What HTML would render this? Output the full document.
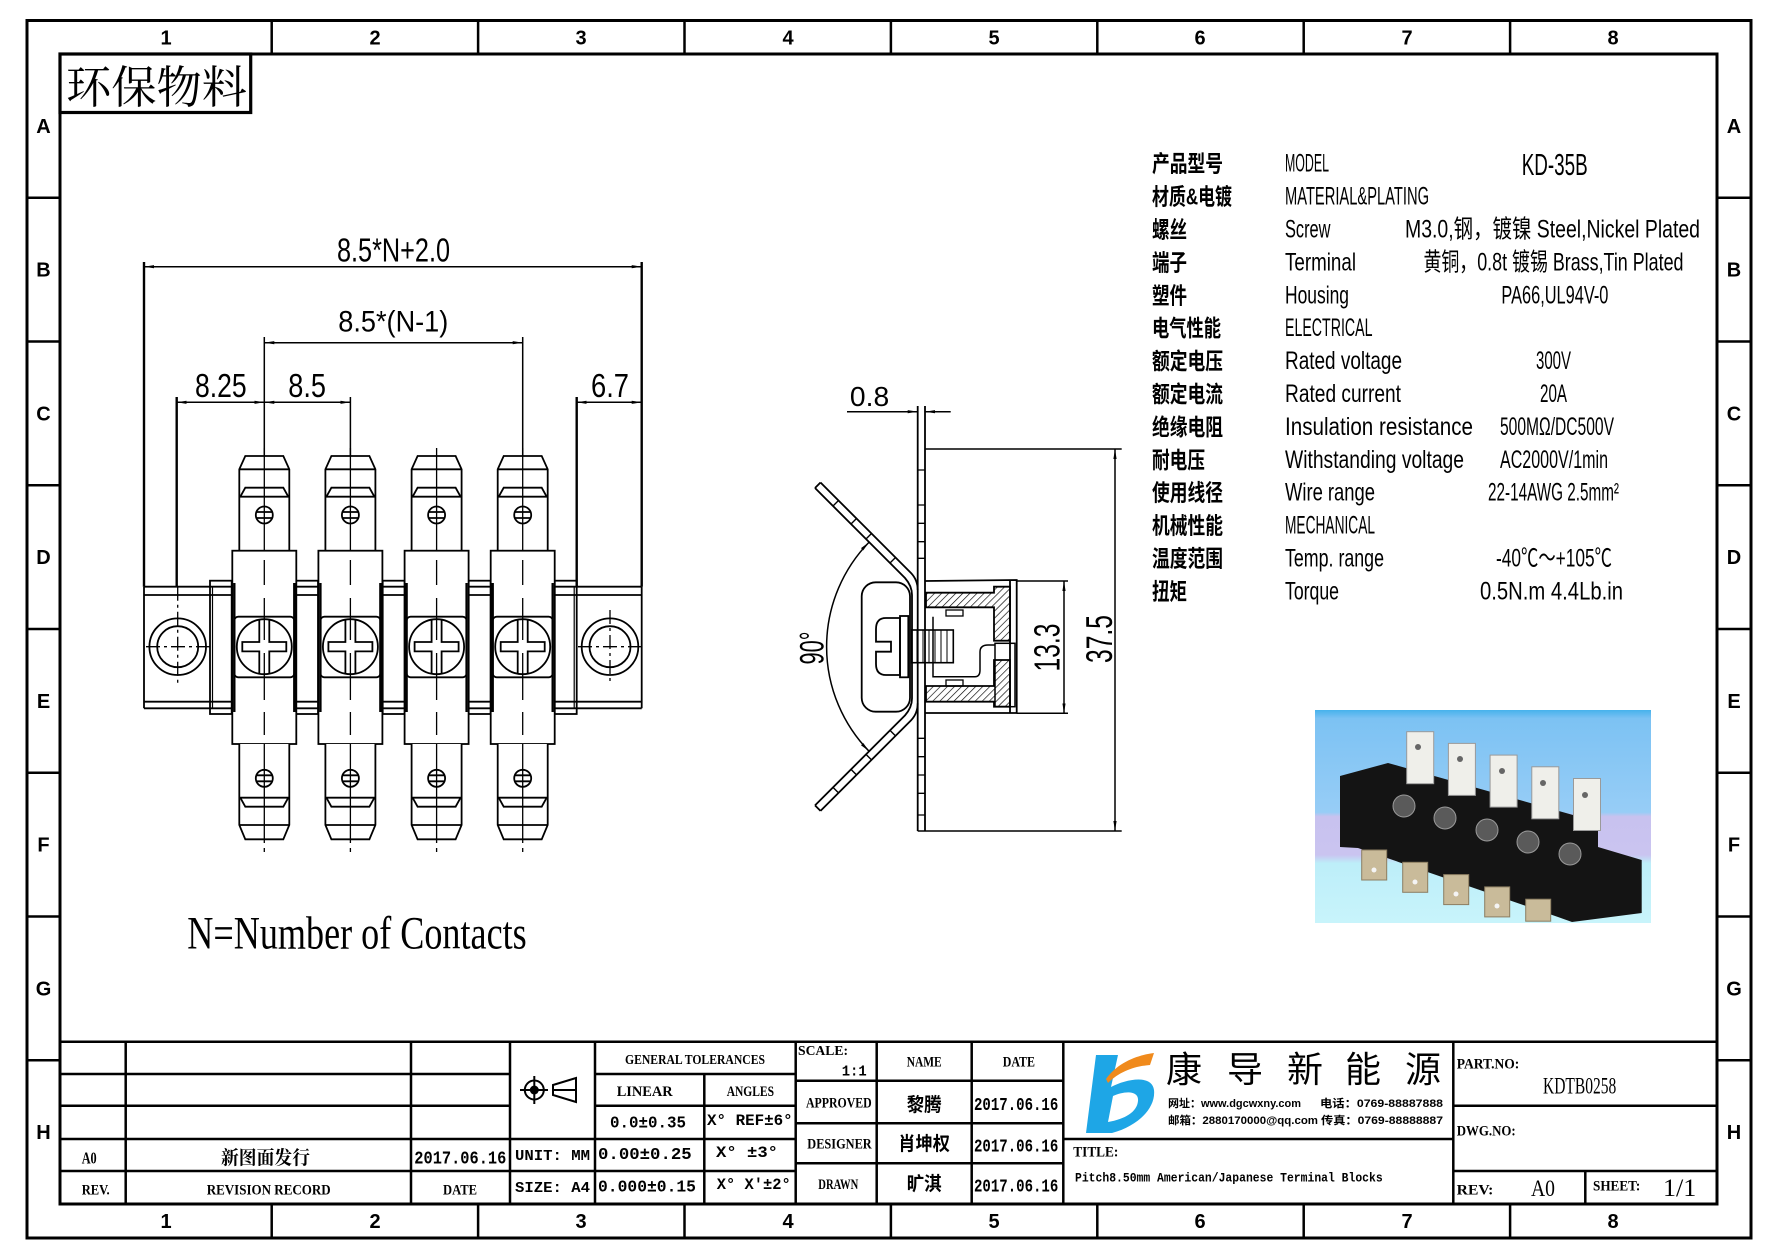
<!DOCTYPE html>
<html><head><meta charset="utf-8"><style>
html,body{margin:0;padding:0;background:#fff;}
svg{display:block;}
.ln{fill:none;stroke:#000;}
text{fill:#000;}
.sp{font-family:"Liberation Sans","Noto Sans CJK SC",sans-serif;font-size:25px;}
.cj{font-family:"Liberation Sans","Noto Sans CJK SC",sans-serif;font-size:23px;font-weight:700;}
.tb{font-family:"Liberation Serif","Noto Serif CJK SC",serif;font-weight:700;}
.dm{font-family:"Liberation Sans",sans-serif;}
.lbl{font-family:"Liberation Sans",sans-serif;font-weight:700;font-size:20px;text-anchor:middle;}
</style></head><body>
<svg width="1778" height="1257" viewBox="0 0 1778 1257" xmlns="http://www.w3.org/2000/svg">
<defs>
<marker id="ar" viewBox="0 0 10 4" refX="10" refY="2" markerWidth="10" markerHeight="4" markerUnits="userSpaceOnUse" orient="auto-start-reverse"><path d="M0,0.4 L10,2 L0,3.6 Z" fill="#000"/></marker>
<pattern id="ht" width="5" height="5" patternUnits="userSpaceOnUse" patternTransform="rotate(45)"><line x1="0" y1="0" x2="0" y2="5" stroke="#000" stroke-width="1.3"/></pattern>
<linearGradient id="bg" x1="0" y1="0" x2="0" y2="1">
<stop offset="0" stop-color="#46b2ec"/><stop offset="0.04" stop-color="#7cc2f3"/><stop offset="0.48" stop-color="#97cdf6"/><stop offset="0.5" stop-color="#c8c2ef"/><stop offset="0.68" stop-color="#cac4f0"/><stop offset="0.72" stop-color="#bdeef9"/><stop offset="1" stop-color="#c8f4fb"/>
</linearGradient>
<g id="pin">
 <path class="ln" stroke-width="1.3" stroke-dasharray="26 5 4 5" d="M0,448 V852"/>
 <g class="ln" stroke-width="1.8">
 <path d="M-25,550.7 V469.3 L-19,456 H19 L25,469.3 V550.7" fill="#fff"/>
 <path d="M-25,469.3 H25"/>
 <path d="M-25,496.7 H25 M-24,496.7 L-19,487.7 H19 L24,496.7"/>
 <circle cx="0" cy="515" r="8.5"/>
 <path d="M-8,512 H8 M-8,518 H8"/>
 <rect x="-32" y="550.7" width="64" height="193.3" fill="#fff"/>
 <path d="M-30,583 V712 M30,583 V712" stroke-width="2.4"/>
 <rect x="-30" y="616.7" width="60" height="60.6" rx="4"/>
 <circle cx="0" cy="646.7" r="27.5"/>
 <path d="M-5,620 V642 H-22 V651.4 H-5 V673.4 M5,620 V642 H22 V651.4 H5 V673.4"/>
 <path d="M-25,744 V825 L-19,839.3 H19 L25,825 V744" fill="#fff"/>
 <path d="M-25,825 H25"/>
 <path d="M-25,797.7 H25 M-24,797.7 L-19,806.7 H19 L24,797.7"/>
 <circle cx="0" cy="778.3" r="8.5"/>
 <path d="M-8,775.3 H8 M-8,781.3 H8"/>
 </g>
 <path class="ln" stroke-width="1.3" d="M0,456 V550 M0,744 V839"/>
 <path class="ln" stroke-width="1.3" d="M0,560 V585 M0,598 V640 M0,653 V700 M0,712 V735"/>
</g>
</defs>

<!-- FRAME -->
<g class="ln" stroke-width="3">
<rect x="27" y="20.5" width="1724" height="1217.5"/>
<rect x="60" y="54" width="1657" height="1150"/>
</g>
<g class="ln" stroke-width="2.5">
<path d="M271.7,20.5V54 M478.1,20.5V54 M684.5,20.5V54 M890.9,20.5V54 M1097.3,20.5V54 M1303.7,20.5V54 M1510.1,20.5V54"/>
<path d="M271.7,1204V1238 M478.1,1204V1238 M684.5,1204V1238 M890.9,1204V1238 M1097.3,1204V1238 M1303.7,1204V1238 M1510.1,1204V1238"/>
<path d="M27,197.75H60 M27,341.5H60 M27,485.25H60 M27,629H60 M27,772.75H60 M27,916.5H60 M27,1060.25H60"/>
<path d="M1717,197.75H1751 M1717,341.5H1751 M1717,485.25H1751 M1717,629H1751 M1717,772.75H1751 M1717,916.5H1751 M1717,1060.25H1751"/>
</g>
<g class="lbl">
<text x="166" y="44.5">1</text><text x="375" y="44.5">2</text><text x="581" y="44.5">3</text><text x="788" y="44.5">4</text><text x="994" y="44.5">5</text><text x="1200" y="44.5">6</text><text x="1407" y="44.5">7</text><text x="1613" y="44.5">8</text>
<text x="166" y="1228">1</text><text x="375" y="1228">2</text><text x="581" y="1228">3</text><text x="788" y="1228">4</text><text x="994" y="1228">5</text><text x="1200" y="1228">6</text><text x="1407" y="1228">7</text><text x="1613" y="1228">8</text>
<text x="43.5" y="133">A</text><text x="43.5" y="276.6">B</text><text x="43.5" y="420.4">C</text><text x="43.5" y="564.1">D</text><text x="43.5" y="707.9">E</text><text x="43.5" y="851.6">F</text><text x="43.5" y="995.4">G</text><text x="43.5" y="1139.1">H</text>
<text x="1734" y="133">A</text><text x="1734" y="276.6">B</text><text x="1734" y="420.4">C</text><text x="1734" y="564.1">D</text><text x="1734" y="707.9">E</text><text x="1734" y="851.6">F</text><text x="1734" y="995.4">G</text><text x="1734" y="1139.1">H</text>
</g>

<!-- 环保物料 -->
<rect x="60" y="54" width="190.7" height="58.5" class="ln" stroke-width="3.2"/>
<text x="66" y="103" font-family="'Noto Serif CJK SC','Liberation Serif',serif" font-size="45" textLength="181" lengthAdjust="spacingAndGlyphs">环保物料</text>

<!-- FRONT VIEW -->
<g class="ln" stroke-width="1.8">
<path d="M144,586.7 H641.7 M144,595 H641.7 M144,701.7 H641.7 M144,708.3 H641.7"/>
<path d="M144,586.7 V708.3 M641.7,586.7 V708.3"/>
<rect x="210" y="580.7" width="21.7" height="133.3"/>
<rect x="296" y="580.7" width="22" height="133.3"/>
<rect x="382.7" y="580.7" width="22" height="133.3"/>
<rect x="468.7" y="580.7" width="22" height="133.3"/>
<rect x="554.7" y="580.7" width="22" height="133.3"/>
<path d="M212.5,586.7V708.3 M574.2,586.7V708.3" stroke-width="1.2"/>
<circle cx="177.7" cy="646.7" r="28.3"/><circle cx="177.7" cy="646.7" r="20.5"/>
<circle cx="610" cy="646.7" r="28.3"/><circle cx="610" cy="646.7" r="20.5"/>
</g>
<g class="ln" stroke-width="1.3" stroke-dasharray="14 4 3 4">
<path d="M146,646.7 H211 M578,646.7 H643 M610,610 V683 M177.7,586.7 V683"/>
</g>
<use href="#pin" transform="translate(264.3,0)"/>
<use href="#pin" transform="translate(350.4,0)"/>
<use href="#pin" transform="translate(436.6,0)"/>
<use href="#pin" transform="translate(522.7,0)"/>
<!-- extension + dim lines -->
<g class="ln" stroke-width="2.4">
<path d="M144,262 V586.7 M641.7,262 V586.7 M176.7,397 V586.7 M576.7,397 V586.7"/>
</g>
<g class="ln" stroke-width="1.5">
<path d="M264.3,337 V456 M522.7,337 V456 M350.4,397 V456"/>
<path d="M144,266.7 H641.7" marker-start="url(#ar)" marker-end="url(#ar)"/>
<path d="M264.3,342.7 H522.7" marker-start="url(#ar)" marker-end="url(#ar)"/>
<path d="M176.7,402.3 H264.3" marker-start="url(#ar)" marker-end="url(#ar)"/>
<path d="M264.3,402.3 H350.4" marker-start="url(#ar)" marker-end="url(#ar)"/>
<path d="M576.7,402.3 H641.7" marker-start="url(#ar)" marker-end="url(#ar)"/>
</g>
<g class="dm">
<text x="337" y="261.7" font-size="33" textLength="113" lengthAdjust="spacingAndGlyphs">8.5*N+2.0</text>
<text x="338.3" y="331.7" font-size="30" textLength="110" lengthAdjust="spacingAndGlyphs">8.5*(N-1)</text>
<text x="195" y="397" font-size="33" textLength="51.7" lengthAdjust="spacingAndGlyphs">8.25</text>
<text x="288.3" y="397" font-size="33" textLength="37.7" lengthAdjust="spacingAndGlyphs">8.5</text>
<text x="591" y="397" font-size="33" textLength="38" lengthAdjust="spacingAndGlyphs">6.7</text>
</g>
<text x="187.3" y="948.3" font-family="'Liberation Serif',serif" font-size="47" textLength="339.4" lengthAdjust="spacingAndGlyphs">N=Number of Contacts</text>

<!-- SIDE VIEW -->
<g class="ln" stroke-width="1.8">
<path d="M917.7,406 V831 M925,406 V831"/>
<path d="M917.7,470H925 M917.7,505H925 M917.7,523.3H925 M917.7,541.7H925 M917.7,558.3H925 M917.7,738.3H925 M917.7,756.7H925 M917.7,775H925 M917.7,793.3H925 M917.7,815H925" stroke-width="1.3"/>
<path d="M925,449 H1121.7 M917.7,831 H1121.7" stroke-width="1.5"/>
<path d="M925,581 L1016.7,580 V713 H925 M1010,581 V713"/>
<path d="M1016.7,581 H1068 M1016.7,713.3 H1068" stroke-width="1.5"/>
<path d="M926,592.7 H994 V586.7 H1010 V640.7 H994 V607.3 H926 Z" fill="url(#ht)"/>
<path d="M926,686 H994 V660 H1010 V706.7 H994 V701.7 H926 Z" fill="url(#ht)"/>
<rect x="946" y="610" width="17" height="6" stroke-width="1.3"/>
<rect x="946" y="680" width="17" height="6" stroke-width="1.3"/>
<path d="M933,616.7 V676.7 H975 Q980,676.7 980,670 V652 Q980,645 988,645 H995" stroke-width="1.5"/>
<rect x="995" y="643.3" width="20" height="63.4" stroke-width="1.5"/>
<rect x="911.7" y="630" width="41.6" height="32.7" stroke-width="1.6"/>
<path d="M917,630V662.7 M923,630V662.7 M929,630V662.7 M935,630V662.7 M941,630V662.7 M947,630V662.7" stroke-width="1"/>
<rect x="861.7" y="582.3" width="48.3" height="129.4" rx="14"/>
<path d="M900,618 H886 Q876,618 876,629 V641.7 H891 V651.7 H876 V664 Q876,675 886,675 H900 Z"/>
<rect x="900" y="616" width="8.3" height="61.3"/>
<path d="M815,488 L905,578 Q912,586 912,595 V698.4 Q912,707.4 905,715.4 L815,805.4"/>
<path d="M820.5,482.5 L911,573 Q917.7,580 917.7,590 M820.5,810.9 L911,720.4 Q917.7,713.4 917.7,703.4"/>
<path d="M815,488 L820.5,482.5 M815,805.4 L820.5,810.9"/>
<path d="M833,506 l5.5,-5.5 M851,524 l5.5,-5.5 M866,539 l5.5,-5.5 M890,563 l5.5,-5.5 M833,787.4 l5.5,5.5 M851,769.4 l5.5,5.5 M866,754.4 l5.5,5.5 M890,730.4 l5.5,5.5" stroke-width="1.4"/>
</g>
<g class="ln" stroke-width="1.5">
<path d="M1115,449 V831" marker-start="url(#ar)" marker-end="url(#ar)"/>
<path d="M1064,581 V713.3" marker-start="url(#ar)" marker-end="url(#ar)"/>
<path d="M869.1,542.1 A150,150 0 0 0 869.1,751.3" marker-start="url(#ar)" marker-end="url(#ar)"/>
<path d="M847,411.7 H917.7" marker-end="url(#ar)"/>
<path d="M950.7,411.7 H925" marker-end="url(#ar)"/>
</g>
<g class="dm" text-anchor="middle">
<text x="869.6" y="406" font-size="28" textLength="39.3" lengthAdjust="spacingAndGlyphs">0.8</text>
<text transform="translate(1111.8,639) rotate(-90)" font-size="37" textLength="48" lengthAdjust="spacingAndGlyphs">37.5</text>
<text transform="translate(1059.3,647.5) rotate(-90)" font-size="36" textLength="48" lengthAdjust="spacingAndGlyphs">13.3</text>
<text transform="translate(823.3,648) rotate(-90)" font-size="34" textLength="33" lengthAdjust="spacingAndGlyphs">90°</text>
</g>

<!-- SPEC TABLE -->
<g class="cj">
<text x="1152" y="171.5" textLength="71" lengthAdjust="spacingAndGlyphs">产品型号</text>
<text x="1152" y="204.5" textLength="80" lengthAdjust="spacingAndGlyphs">材质&amp;电镀</text>
<text x="1152" y="237.5" textLength="35" lengthAdjust="spacingAndGlyphs">螺丝</text>
<text x="1152" y="270.4" textLength="35" lengthAdjust="spacingAndGlyphs">端子</text>
<text x="1152" y="303.3" textLength="35" lengthAdjust="spacingAndGlyphs">塑件</text>
<text x="1152" y="336.2" textLength="69" lengthAdjust="spacingAndGlyphs">电气性能</text>
<text x="1152" y="369.1" textLength="71" lengthAdjust="spacingAndGlyphs">额定电压</text>
<text x="1152" y="402" textLength="71" lengthAdjust="spacingAndGlyphs">额定电流</text>
<text x="1152" y="434.9" textLength="71" lengthAdjust="spacingAndGlyphs">绝缘电阻</text>
<text x="1152" y="467.8" textLength="53" lengthAdjust="spacingAndGlyphs">耐电压</text>
<text x="1152" y="500.7" textLength="71" lengthAdjust="spacingAndGlyphs">使用线径</text>
<text x="1152" y="533.6" textLength="71" lengthAdjust="spacingAndGlyphs">机械性能</text>
<text x="1152" y="566.5" textLength="71" lengthAdjust="spacingAndGlyphs">温度范围</text>
<text x="1152" y="599.4" textLength="35" lengthAdjust="spacingAndGlyphs">扭矩</text>
</g>
<g class="sp">
<text x="1285" y="171.5" textLength="44" lengthAdjust="spacingAndGlyphs">MODEL</text>
<text x="1285" y="204.5" textLength="144" lengthAdjust="spacingAndGlyphs">MATERIAL&amp;PLATING</text>
<text x="1285" y="237.5" textLength="45.5" lengthAdjust="spacingAndGlyphs">Screw</text>
<text x="1285" y="270.4" textLength="71" lengthAdjust="spacingAndGlyphs">Terminal</text>
<text x="1285" y="303.3" textLength="64" lengthAdjust="spacingAndGlyphs">Housing</text>
<text x="1285" y="336.2" textLength="87.5" lengthAdjust="spacingAndGlyphs">ELECTRICAL</text>
<text x="1285" y="369.1" textLength="117" lengthAdjust="spacingAndGlyphs">Rated voltage</text>
<text x="1285" y="402" textLength="116" lengthAdjust="spacingAndGlyphs">Rated current</text>
<text x="1285" y="434.9" textLength="188" lengthAdjust="spacingAndGlyphs">Insulation resistance</text>
<text x="1285" y="467.8" textLength="179" lengthAdjust="spacingAndGlyphs">Withstanding voltage</text>
<text x="1285" y="500.7" textLength="90" lengthAdjust="spacingAndGlyphs">Wire range</text>
<text x="1285" y="533.6" textLength="90" lengthAdjust="spacingAndGlyphs">MECHANICAL</text>
<text x="1285" y="566.5" textLength="99" lengthAdjust="spacingAndGlyphs">Temp.  range</text>
<text x="1285" y="599.4" textLength="54" lengthAdjust="spacingAndGlyphs">Torque</text>
<text x="1521.7" y="175" font-size="31" textLength="66" lengthAdjust="spacingAndGlyphs">KD-35B</text>
<text x="1405" y="237.5" textLength="295" lengthAdjust="spacingAndGlyphs">M3.0,钢，镀镍 Steel,Nickel Plated</text>
<text x="1423.5" y="270.4" textLength="260" lengthAdjust="spacingAndGlyphs">黄铜，0.8t 镀锡 Brass,Tin Plated</text>
<text x="1501.4" y="303.3" textLength="107" lengthAdjust="spacingAndGlyphs">PA66,UL94V-0</text>
<text x="1536" y="369.1" textLength="35" lengthAdjust="spacingAndGlyphs">300V</text>
<text x="1540" y="402" textLength="27" lengthAdjust="spacingAndGlyphs">20A</text>
<text x="1500" y="434.9" textLength="114" lengthAdjust="spacingAndGlyphs">500MΩ/DC500V</text>
<text x="1500" y="467.8" textLength="108" lengthAdjust="spacingAndGlyphs">AC2000V/1min</text>
<text x="1488" y="500.7" textLength="131" lengthAdjust="spacingAndGlyphs">22-14AWG 2.5mm²</text>
<text x="1496" y="566.5" textLength="116" lengthAdjust="spacingAndGlyphs">-40℃～+105℃</text>
<text x="1480" y="599.4" textLength="143" lengthAdjust="spacingAndGlyphs">0.5N.m  4.4Lb.in</text>
</g>

<!-- PHOTO -->
<rect x="1315" y="710" width="336" height="213" fill="url(#bg)"/>
<polygon points="1340,776 1388,763 1598,822 1598,847 1641.7,860 1641.7,913 1572,922 1558,917 1358,848 1340,847" fill="#141414"/>
<g fill="#efefea" stroke="#9a9a9a" stroke-width="1">
<rect x="1406.7" y="731.7" width="27" height="52"/>
<rect x="1448.4" y="743.4" width="27" height="52"/>
<rect x="1490.1" y="755.1" width="27" height="52"/>
<rect x="1531.8" y="766.8" width="27" height="52"/>
<rect x="1573.5" y="778.5" width="27" height="52"/>
</g>
<g fill="#666"><circle cx="1418" cy="747" r="3"/><circle cx="1460" cy="759" r="3"/><circle cx="1502" cy="771" r="3"/><circle cx="1543" cy="783" r="3"/><circle cx="1585" cy="795" r="3"/></g>
<g fill="#c9bb9a" stroke="#8c7e62" stroke-width="1">
<rect x="1361.7" y="850" width="25" height="30"/>
<rect x="1402.7" y="862.3" width="25" height="30"/>
<rect x="1443.7" y="874.6" width="25" height="30"/>
<rect x="1484.7" y="886.9" width="25" height="30"/>
<rect x="1525.7" y="899.2" width="25" height="22"/>
</g>
<g fill="#f4f4f4"><circle cx="1374" cy="870" r="2.5"/><circle cx="1415" cy="882" r="2.5"/><circle cx="1456" cy="894" r="2.5"/><circle cx="1497" cy="906" r="2.5"/></g>
<g fill="#5a5a5a" stroke="#9a9a9a" stroke-width="1">
<circle cx="1404" cy="806" r="11"/><circle cx="1445" cy="818" r="11"/><circle cx="1487" cy="830" r="11"/><circle cx="1528" cy="842" r="11"/><circle cx="1570" cy="854" r="11"/>
</g>

<!-- TITLE BLOCK -->
<g class="ln" stroke-width="2.5">
<path d="M60,1041.7 H1717"/>
<path d="M60,1074 H510 M595,1074 H795.7 M60,1105.7 H510 M595,1105.7 H795.7 M1453.3,1105.7 H1717"/>
<path d="M60,1139 H795.7 M1063.3,1139 H1453.3 M60,1171 H795.7 M1453.3,1171 H1717"/>
<path d="M795.7,1080.7 H1063.3 M795.7,1123.3 H1063.3 M795.7,1163.3 H1063.3"/>
<path d="M125.7,1041.7V1204 M411,1041.7V1204 M510,1041.7V1204 M595,1041.7V1204 M795.7,1041.7V1204 M876.7,1041.7V1204 M971.7,1041.7V1204 M1063.3,1041.7V1204 M1453.3,1041.7V1204"/>
<path d="M704.3,1074V1204 M1585.3,1171V1204"/>
</g>
<!-- projection symbol -->
<g class="ln" stroke-width="2">
<circle cx="534.3" cy="1090" r="9.5"/>
<path d="M520,1090 H548 M534.3,1076 V1104"/>
<path d="M553,1085 L576,1078 V1102 L553,1095 Z M553,1090 H576"/>
</g>
<circle cx="534.3" cy="1090" r="4.5" fill="#000"/>
<g class="tb" font-size="17">
<text x="81.7" y="1163.5" textLength="15" lengthAdjust="spacingAndGlyphs">A0</text>
<text x="221" y="1164" font-family="'Noto Serif CJK SC',serif" font-size="19" textLength="89" lengthAdjust="spacingAndGlyphs">新图面发行</text>
<text x="414.3" y="1163.5" font-family="'Liberation Mono',monospace" font-size="18" textLength="92" lengthAdjust="spacingAndGlyphs">2017.06.16</text>
<text x="81.7" y="1194.5" font-size="15" textLength="28" lengthAdjust="spacingAndGlyphs">REV.</text>
<text x="206.7" y="1194.5" font-size="15" textLength="124" lengthAdjust="spacingAndGlyphs">REVISION RECORD</text>
<text x="443" y="1194.5" font-size="15" textLength="34" lengthAdjust="spacingAndGlyphs">DATE</text>
<text x="515" y="1160" font-family="'Liberation Mono',monospace" font-size="15" textLength="75" lengthAdjust="spacingAndGlyphs">UNIT: MM</text>
<text x="515" y="1192" font-family="'Liberation Mono',monospace" font-size="15" textLength="75" lengthAdjust="spacingAndGlyphs">SIZE: A4</text>
<text x="625" y="1064" font-size="14" textLength="140" lengthAdjust="spacingAndGlyphs">GENERAL TOLERANCES</text>
<text x="616.7" y="1096" font-size="15" textLength="56" lengthAdjust="spacingAndGlyphs">LINEAR</text>
<text x="726.7" y="1096" font-size="15" textLength="47.3" lengthAdjust="spacingAndGlyphs">ANGLES</text>
<text x="610" y="1127.3" font-family="'Liberation Mono',monospace" font-size="17" textLength="76" lengthAdjust="spacingAndGlyphs">0.0±0.35</text>
<text x="707" y="1125" font-family="'Liberation Mono',monospace" font-size="16" textLength="85.7" lengthAdjust="spacingAndGlyphs">X° REF±6°</text>
<text x="598" y="1159" font-family="'Liberation Mono',monospace" font-size="17" textLength="93.7" lengthAdjust="spacingAndGlyphs">0.00±0.25</text>
<text x="716" y="1157" font-family="'Liberation Mono',monospace" font-size="16" textLength="62" lengthAdjust="spacingAndGlyphs">X° ±3°</text>
<text x="598" y="1191.7" font-family="'Liberation Mono',monospace" font-size="17" textLength="98" lengthAdjust="spacingAndGlyphs">0.000±0.15</text>
<text x="716.7" y="1189" font-family="'Liberation Mono',monospace" font-size="16" textLength="74" lengthAdjust="spacingAndGlyphs">X° X'±2°</text>
<text x="798" y="1055" font-size="14" textLength="50" lengthAdjust="spacingAndGlyphs">SCALE:</text>
<text x="841.7" y="1075.7" font-family="'Liberation Mono',monospace" font-size="15" textLength="25" lengthAdjust="spacingAndGlyphs">1:1</text>
<text x="906.7" y="1066.7" font-size="15" textLength="35" lengthAdjust="spacingAndGlyphs">NAME</text>
<text x="1002.7" y="1066.7" font-size="15" textLength="32.3" lengthAdjust="spacingAndGlyphs">DATE</text>
<text x="806" y="1107.7" font-size="15" textLength="65.7" lengthAdjust="spacingAndGlyphs">APPROVED</text>
<text x="807.3" y="1148.3" font-size="15" textLength="64.4" lengthAdjust="spacingAndGlyphs">DESIGNER</text>
<text x="818.3" y="1189" font-size="15" textLength="40" lengthAdjust="spacingAndGlyphs">DRAWN</text>
<text x="906.7" y="1111" font-family="'Noto Sans CJK SC',sans-serif" font-size="19" textLength="35" lengthAdjust="spacingAndGlyphs">黎腾</text>
<text x="898.3" y="1150" font-family="'Noto Sans CJK SC',sans-serif" font-size="19" textLength="51.7" lengthAdjust="spacingAndGlyphs">肖坤权</text>
<text x="906.7" y="1190" font-family="'Noto Sans CJK SC',sans-serif" font-size="19" textLength="35" lengthAdjust="spacingAndGlyphs">旷淇</text>
<text x="974" y="1110" font-family="'Liberation Mono',monospace" font-size="18" textLength="84.3" lengthAdjust="spacingAndGlyphs">2017.06.16</text>
<text x="974" y="1151.7" font-family="'Liberation Mono',monospace" font-size="18" textLength="84.3" lengthAdjust="spacingAndGlyphs">2017.06.16</text>
<text x="974" y="1191.7" font-family="'Liberation Mono',monospace" font-size="18" textLength="84.3" lengthAdjust="spacingAndGlyphs">2017.06.16</text>
<text x="1073.3" y="1156.7" font-size="15" textLength="45" lengthAdjust="spacingAndGlyphs">TITLE:</text>
<text x="1075" y="1181.7" font-family="'Liberation Mono',monospace" font-size="13" textLength="307.7" lengthAdjust="spacingAndGlyphs">Pitch8.50mm American/Japanese Terminal Blocks</text>
<text x="1456.7" y="1068.3" font-size="15" textLength="62.6" lengthAdjust="spacingAndGlyphs">PART.NO:</text>
<text x="1543" y="1093.7" font-weight="400" font-size="23" textLength="73.3" lengthAdjust="spacingAndGlyphs">KDTB0258</text>
<text x="1456.7" y="1135.7" font-size="15" textLength="59" lengthAdjust="spacingAndGlyphs">DWG.NO:</text>
<text x="1456.7" y="1194.3" font-size="15" textLength="36.7" lengthAdjust="spacingAndGlyphs">REV:</text>
<text x="1531" y="1196" font-weight="400" font-size="23" textLength="24" lengthAdjust="spacingAndGlyphs">A0</text>
<text x="1593" y="1190.3" font-size="15" textLength="47.3" lengthAdjust="spacingAndGlyphs">SHEET:</text>
<text x="1663" y="1196" font-weight="400" font-size="25" textLength="33.3" lengthAdjust="spacingAndGlyphs">1/1</text>
</g>
<!-- LOGO -->
<path d="M1096,1055 L1118,1055 L1111,1087 C1126,1079 1152,1074 1154,1090 C1156,1108 1138,1126 1112,1133 L1086,1133 Z" fill="#1ea6e6"/>
<path d="M1113,1096 C1124,1091 1139,1090 1138,1101 C1137,1112 1125,1119 1108,1122 Z" fill="#fff"/>
<path d="M1106,1079 C1118,1062 1138,1055 1154,1053 L1150,1065 C1136,1066 1120,1071 1108,1083 Z" fill="#f08a1c"/>
<g font-family="'Noto Sans CJK SC',sans-serif" font-size="36" text-anchor="middle">
<text x="1184" y="1082">康</text><text x="1245" y="1082">导</text><text x="1305" y="1082">新</text><text x="1363" y="1082">能</text><text x="1423" y="1082">源</text>
</g>
<g font-family="'Liberation Sans','Noto Sans CJK SC',sans-serif" font-size="11" font-weight="700">
<text x="1168" y="1107" textLength="133" lengthAdjust="spacingAndGlyphs">网址：www.dgcwxny.com</text>
<text x="1320" y="1107" textLength="123" lengthAdjust="spacingAndGlyphs">电话：0769-88887888</text>
<text x="1168" y="1124" textLength="150" lengthAdjust="spacingAndGlyphs">邮箱：2880170000@qq.com</text>
<text x="1321" y="1124" textLength="122" lengthAdjust="spacingAndGlyphs">传真：0769-88888887</text>
</g>
</svg>
</body></html>
